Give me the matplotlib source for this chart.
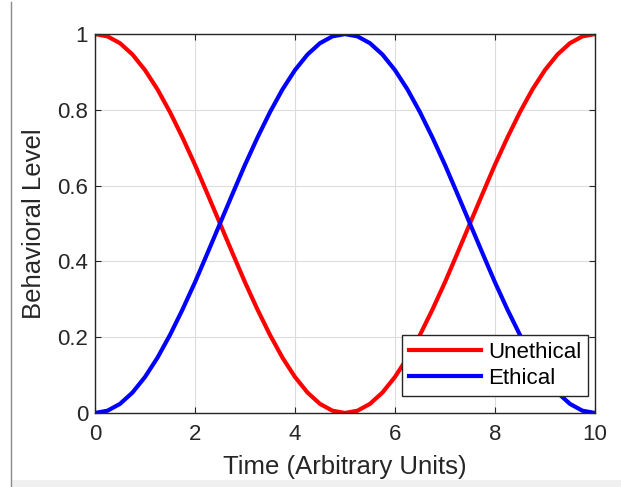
import numpy as np
import matplotlib
matplotlib.use("Agg")
import matplotlib.pyplot as plt
from matplotlib.patches import Rectangle
from matplotlib.lines import Line2D

# values (step 0.25)
time_vals = [0, 0.25, 0.5, 0.75, 1, 1.25, 1.5, 1.75, 2, 2.25, 2.5, 2.75, 3, 3.25, 3.5, 3.75, 4, 4.25, 4.5, 4.75,
             5, 5.25, 5.5, 5.75, 6, 6.25, 6.5, 6.75, 7, 7.25, 7.5, 7.75, 8, 8.25, 8.5, 8.75, 9, 9.25, 9.5, 9.75, 10]
unethical = [1.0, 0.994, 0.976, 0.946, 0.905, 0.854, 0.794, 0.727, 0.655, 0.578, 0.5, 0.422, 0.345, 0.273, 0.206,
             0.146, 0.095, 0.054, 0.024, 0.006,
             0.0, 0.006, 0.024, 0.054, 0.095, 0.146, 0.206, 0.273, 0.345, 0.422, 0.5, 0.578, 0.655, 0.727, 0.794,
             0.854, 0.905, 0.946, 0.976, 0.994, 1.0]
ethical = [0.0, 0.006, 0.024, 0.054, 0.095, 0.146, 0.206, 0.273, 0.345, 0.422, 0.5, 0.578, 0.655, 0.727, 0.794,
           0.854, 0.905, 0.946, 0.976, 0.994,
           1.0, 0.994, 0.976, 0.946, 0.905, 0.854, 0.794, 0.727, 0.655, 0.578, 0.5, 0.422, 0.345, 0.273, 0.206,
           0.146, 0.095, 0.054, 0.024, 0.006, 0.0]
xticks = [0, 2, 4, 6, 8, 10]
yticks = [0, 0.2, 0.4, 0.6, 0.8, 1]
ytick_labels = ["0", "0.2", "0.4", "0.6", "0.8", "1"]

plt.rcParams['font.family'] = ['Liberation Sans', 'DejaVu Sans']

fig = plt.figure(figsize=(6.21, 4.87), dpi=100)
ax = fig.add_axes([0.153, 0.152, 0.805, 0.778])

# screenshot frame bits
fig.add_artist(Line2D([0.017, 0.017], [0.0, 0.995], transform=fig.transFigure, color="#8a8a8a", lw=1))
fig.add_artist(Rectangle((0.017, 0.0), 0.983, 0.0145, transform=fig.transFigure, color="#f0f0f0", lw=0))

ax.plot(time_vals, unethical, color="#ff0000", lw=3, label="Unethical")
ax.plot(time_vals, ethical, color="#0000ff", lw=3, label="Ethical")

ax.set_xlim(0, 10)
ax.set_ylim(0, 1)
ax.set_xticks(xticks)
ax.set_yticks(yticks)
ax.set_yticklabels(ytick_labels)
ax.tick_params(direction="in", length=4, width=0.8, labelsize=16, colors="#262626",
               top=True, right=True)
ax.tick_params(axis="x", pad=8)
ax.tick_params(axis="y", pad=5)
ax.grid(True, color="#dcdcdc", lw=0.8)
for s in ax.spines.values():
    s.set_color("#262626")
    s.set_linewidth(1)

ax.set_xlabel("Time (Arbitrary Units)", fontsize=18.5, color="#262626", labelpad=7)
ax.set_ylabel("Behavioral Level", fontsize=18.5, color="#262626", labelpad=8)

leg = ax.legend(loc="lower right", bbox_to_anchor=(0.986, 0.045), borderaxespad=0,
                fontsize=16, frameon=True, fancybox=False, handlelength=3.25,
                borderpad=0.3, labelspacing=0.24, handletextpad=0.3)
leg.get_frame().set_edgecolor("#262626")
leg.get_frame().set_linewidth(1)
leg.get_frame().set_alpha(1)

fig.savefig("out.png", dpi=100)
